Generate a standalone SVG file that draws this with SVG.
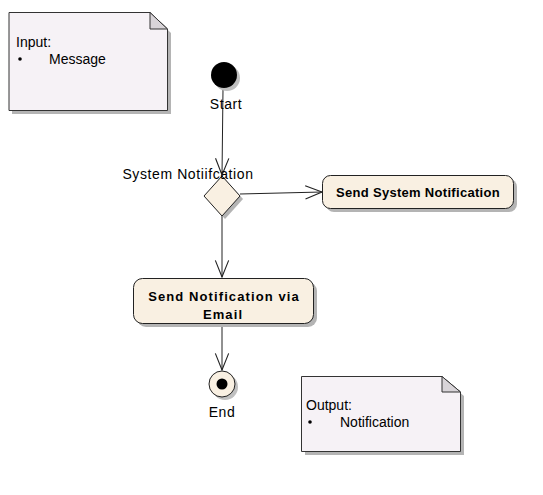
<svg xmlns="http://www.w3.org/2000/svg" width="543" height="495" viewBox="0 0 543 495">
<style>
.note{fill:#f6f2f6;stroke:#333;stroke-width:1}
.fold{fill:#d8d4d8;stroke:#333;stroke-width:1}
.shadow{fill:#b4b4b4;stroke:none}
.act{fill:#f9f0e2;stroke:#222;stroke-width:1}
.t{font-family:"Liberation Sans",Arial,sans-serif;font-size:14px;fill:#000}
.l{font-family:"Liberation Sans",Arial,sans-serif;font-size:14px;fill:#000;letter-spacing:0.6px}
.b{font-family:"Liberation Sans",Arial,sans-serif;font-size:13px;font-weight:bold;fill:#000}
.edge{fill:none;stroke:#222;stroke-width:1}
</style>
<defs>
<marker id="open" markerWidth="20" markerHeight="20" viewBox="-16 -8 18 16" refX="0" refY="0" orient="auto" markerUnits="userSpaceOnUse">
<path d="M-15,-6 L0,0 L-15,6" fill="none" stroke="#222" stroke-width="1"/>
</marker>
</defs>
<g id="connectors">
<path class="edge" d="M223,89 L222,175" marker-end="url(#open)"/>
<path class="edge" d="M240,194 L322,192" marker-end="url(#open)"/>
<path class="edge" d="M222,216 L222,277" marker-end="url(#open)"/>
<path class="edge" d="M222,323 L222,370" marker-end="url(#open)"/>
</g>
<g id="note-input">
<path class="shadow" d="M12,16 L153,16 L171,33 L171,114 L12,114 Z"/>
<path class="note" d="M9,12.5 L150,12.5 L167.5,29 L167.5,110.5 L9,110.5 Z"/>
<path class="fold" d="M150,12.5 L150,29 L167.5,29 Z"/>
<text class="t" x="16" y="47">Input:</text>
<circle cx="20" cy="59" r="1.8" fill="#000"/>
<text class="t" x="49" y="64">Message</text>
</g>
<g id="start">
<circle cx="227" cy="78" r="13" fill="#c0c0c0"/>
<circle cx="224" cy="75" r="13" fill="#000"/>
<text class="l" x="226" y="109" text-anchor="middle">Start</text>
</g>
<g id="decision">
<path class="shadow" d="M225,179 L243,199 L225,219 L207,199 Z"/>
<path class="act" d="M222,176 L240,196 L222,216 L204,196 Z"/>
<text class="l" x="188" y="179" text-anchor="middle">System Notiifcation</text>
</g>
<g id="send-system">
<rect x="326" y="179" width="191" height="33" rx="8" class="shadow"/>
<rect x="322.5" y="175.5" width="191" height="33" rx="8" class="act"/>
<text class="b" x="418" y="197" text-anchor="middle" letter-spacing="0.3">Send System Notification</text>
</g>
<g id="send-email">
<rect x="137" y="282" width="180" height="45" rx="9" class="shadow"/>
<rect x="133.5" y="278.5" width="180" height="45" rx="9" class="act"/>
<text class="b" x="224" y="301" text-anchor="middle" letter-spacing="1.1">Send Notification via</text>
<text class="b" x="223" y="319" text-anchor="middle" letter-spacing="1.1">Email</text>
</g>
<g id="end">
<circle cx="225" cy="387" r="13" fill="#c0c0c0"/>
<circle cx="222" cy="384" r="13" fill="#f9f0e2" stroke="#222"/>
<circle cx="222" cy="384" r="5.5" fill="#000"/>
<text class="l" x="222" y="417" text-anchor="middle">End</text>
</g>
<g id="note-output">
<path class="shadow" d="M305,380 L445,380 L464,396 L464,455 L305,455 Z"/>
<path class="note" d="M301.5,376.5 L442,376.5 L460.5,392 L460.5,451.5 L301.5,451.5 Z"/>
<path class="fold" d="M442,376.5 L442,392 L460.5,392 Z"/>
<text class="t" x="306" y="410">Output:</text>
<circle cx="310" cy="422" r="1.8" fill="#000"/>
<text class="t" x="340" y="427">Notification</text>
</g>
</svg>
